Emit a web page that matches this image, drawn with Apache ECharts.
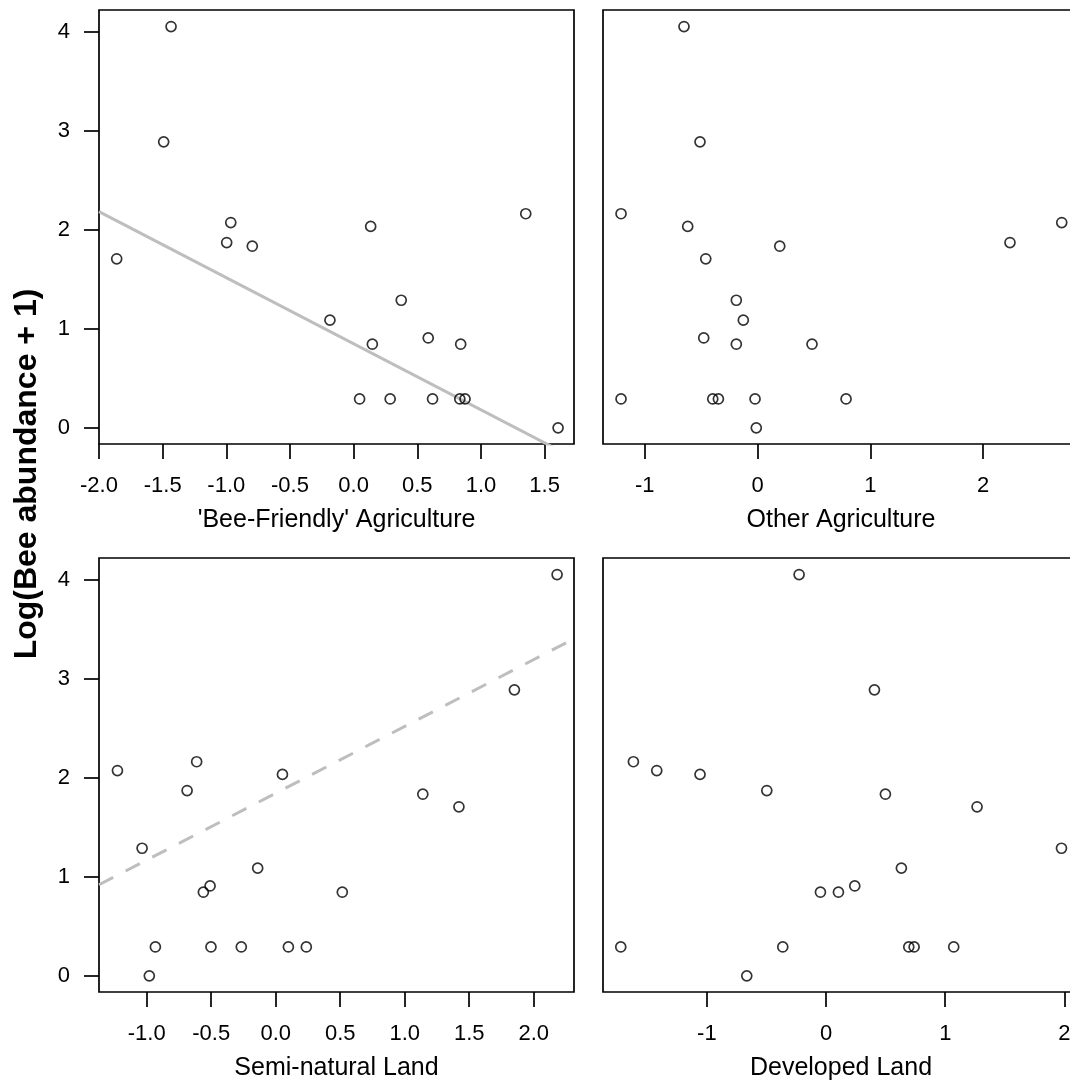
<!DOCTYPE html>
<html><head><meta charset="utf-8">
<script src="https://cdn.jsdelivr.net/npm/echarts@6/dist/echarts.min.js"></script>
<style>html,body{margin:0;padding:0;background:#fff}#c{width:1070px;height:1087px}</style>
</head><body><div id="c"></div>
<script>
// ---- data ----
const yAbund = [4.054, 2.889, 2.163, 2.074, 2.035, 1.872, 1.835, 1.708, 1.289, 1.088, 0.908, 0.845, 0.845, 0.292, 0.292, 0.292, 0.292, 0.292, 0];
const xBeeFriendly = [-1.434, -1.492, 1.352, -0.965, 0.134, -0.997, -0.796, -1.861, 0.374, -0.186, 0.586, 0.147, 0.841, 0.047, 0.287, 0.620, 0.834, 0.875, 1.606];
const xOtherAg = [-0.652, -0.510, -1.210, 2.697, -0.619, 2.238, 0.197, -0.459, -0.188, -0.126, -0.477, -0.188, 0.483, -1.210, -0.397, -0.347, -0.022, 0.785, -0.011];
const xSemiNatural = [2.181, 1.850, -0.613, -1.227, 0.052, -0.687, 1.140, 1.420, -1.036, -0.140, -0.509, -0.561, 0.516, -0.933, -0.502, -0.267, 0.098, 0.237, -0.980];
const xDeveloped = [-0.226, 0.406, -1.616, -1.420, -1.057, -0.497, 0.498, 1.267, 1.975, 0.632, 0.241, -0.047, 0.104, -1.722, -0.363, 0.694, 0.739, 1.071, -0.665];

const panelTitles = ["'Bee-Friendly' Agriculture", "Other Agriculture", "Semi-natural Land", "Developed Land"];
const yTitle = 'Log(Bee abundance + 1)';
const yTicks = [0, 1, 2, 3, 4];
const xTicksBee = [-2.0, -1.5, -1.0, -0.5, 0.0, 0.5, 1.0, 1.5];
const xTicksOther = [-1, 0, 1, 2];
const xTicksSemi = [-1.0, -0.5, 0.0, 0.5, 1.0, 1.5, 2.0];
const xTicksDev = [-1, 0, 1, 2];
const fitBee = { intercept: 0.85, slope: -0.6675 };
const fitSemi = { intercept: 1.845, slope: 0.675 };

// ---- layout / style ----
const FONT = "'Liberation Sans', Arial, sans-serif";
const Y_RANGE = [-0.163, 4.221];
const panels = [
  { x: xBeeFriendly, ticks: xTicksBee, dec: 1, range: [-2.0, 1.731], grid: { left: 99, top: 10, width: 475, height: 434 }, yAxis: true },
  { x: xOtherAg, ticks: xTicksOther, dec: 0, range: [-1.370, 2.850], grid: { left: 603, top: 10, width: 476, height: 434 }, yAxis: false },
  { x: xSemiNatural, ticks: xTicksSemi, dec: 1, range: [-1.370, 2.312], grid: { left: 99, top: 558, width: 475, height: 434 }, yAxis: true },
  { x: xDeveloped, ticks: xTicksDev, dec: 0, range: [-1.871, 2.122], grid: { left: 603, top: 558, width: 476, height: 434 }, yAxis: false }
];
const LW = 1.7;

const grids = [], xAxes = [], yAxes = [], series = [];
panels.forEach((p, i) => {
  grids.push(Object.assign({ show: true, borderColor: '#000', borderWidth: LW, backgroundColor: 'transparent', containLabel: false, outerBoundsMode: 'none' }, p.grid));
  xAxes.push({
    gridIndex: i, type: 'value', min: p.range[0], max: p.range[1], position: 'bottom',
    axisLine: { show: false, onZero: false }, splitLine: { show: false },
    axisTick: { show: true, inside: false, length: 15, customValues: p.ticks, lineStyle: { color: '#000', width: LW } },
    axisLabel: { show: true, customValues: p.ticks, margin: 31, color: '#000', fontSize: 22, fontFamily: FONT,
      formatter: v => Number(v).toFixed(p.dec) },
    name: panelTitles[i], nameLocation: 'middle', nameGap: 64,
    nameTextStyle: { fontSize: 25, color: '#000', fontFamily: FONT }
  });
  yAxes.push({
    gridIndex: i, type: 'value', min: Y_RANGE[0], max: Y_RANGE[1], position: 'left',
    axisLine: { show: false, onZero: false }, splitLine: { show: false },
    axisTick: { show: p.yAxis, inside: false, length: 15, customValues: yTicks, lineStyle: { color: '#000', width: LW } },
    axisLabel: { show: p.yAxis, customValues: yTicks, margin: 29, color: '#000', fontSize: 22, fontFamily: FONT,
      padding: [4, 0, 0, 0], formatter: v => String(Math.round(v)) }
  });
  series.push({
    type: 'scatter', xAxisIndex: i, yAxisIndex: i, silent: true, z: 3,
    data: p.x.map((v, k) => [v, yAbund[k]]),
    symbol: 'circle', symbolSize: 10,
    itemStyle: { color: 'rgba(0,0,0,0)', borderColor: '#000', borderWidth: LW }
  });
});

function fitLine(fit, range) {
  return range.map(x => [x, fit.intercept + fit.slope * x]);
}
series.push({
  type: 'line', xAxisIndex: 0, yAxisIndex: 0, silent: true, z: 2, clip: true,
  data: fitLine(fitBee, panels[0].range), symbol: 'none',
  lineStyle: { color: '#bebebe', width: 3, type: 'solid' }
});
series.push({
  type: 'line', xAxisIndex: 2, yAxisIndex: 2, silent: true, z: 2, clip: true,
  data: fitLine(fitSemi, panels[2].range), symbol: 'none',
  lineStyle: { color: '#bebebe', width: 3, type: [16, 14] }
});

const chart = echarts.init(document.getElementById('c'), null, { renderer: 'canvas' });
chart.setOption({
  animation: false,
  backgroundColor: '#fff',
  grid: grids, xAxis: xAxes, yAxis: yAxes, series: series,
  graphic: [{
    type: 'text', x: 27, y: 474, rotation: Math.PI / 2, silent: true,
    style: { text: yTitle, fontSize: 32, fontWeight: 'bold', fontFamily: FONT, fill: '#000',
      align: 'center', verticalAlign: 'middle', textAlign: 'center', textVerticalAlign: 'middle' }
  }]
});
</script></body></html>
